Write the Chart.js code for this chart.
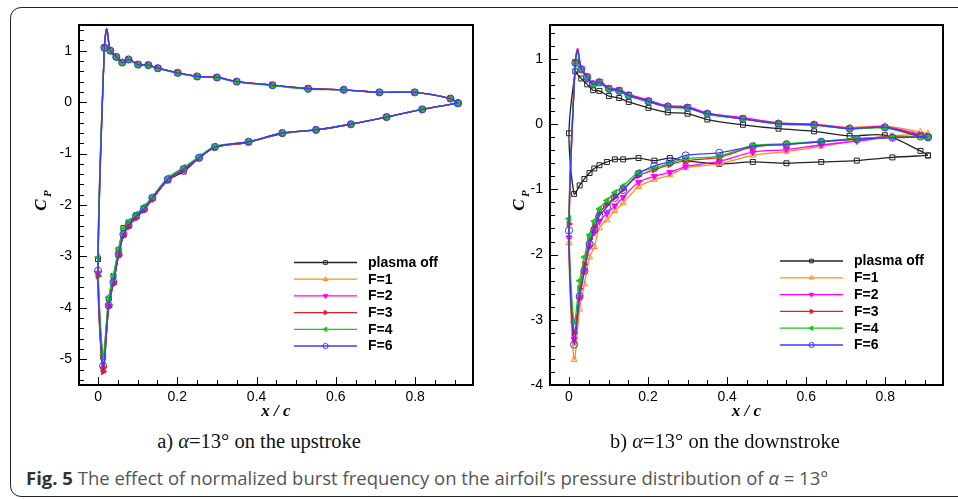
<!DOCTYPE html>
<html>
<head>
<meta charset="utf-8">
<script src="https://cdn.jsdelivr.net/npm/chart.js@4.4.1/dist/chart.umd.min.js"></script>
<style>
  html, body { margin: 0; padding: 0; background: #fff; width: 958px; height: 499px; overflow: hidden; }
  #frame { position: absolute; left: 10px; top: 7px; width: 980px; height: 490px; border: 1.5px solid #222; border-radius: 11px; box-sizing: border-box; }
  canvas { position: absolute; top: 0; }
  #ca { left: 0; }
  #cb { left: 478px; }
  .sub { position: absolute; top: 430px; font: 20.5px 'Liberation Serif', serif; color: #111; white-space: nowrap; transform: translateX(-50%); }
  #fig { position: absolute; left: 26px; top: 465px; font: 18.5px 'Open Sans', sans-serif; color: #555; white-space: nowrap; }
  #fig b { color: #333; }
</style>
</head>
<body>
<div id="frame"></div>
<canvas id="ca" width="480" height="430"></canvas>
<canvas id="cb" width="480" height="430"></canvas>
<div class="sub" style="left:259px">a) <i>α</i>=13° on the upstroke</div>
<div class="sub" style="left:725px">b) <i>α</i>=13° on the downstroke</div>
<div id="fig"><b>Fig. 5</b> The effect of normalized burst frequency on the airfoil’s pressure distribution of <i>α</i> = 13°</div>

<script>
// pressure taps: trailing edge + upper (pressure) side towards the leading edge, then lower (suction) side back
const upperX = [0.908, 0.889, 0.799, 0.710, 0.620, 0.530, 0.440, 0.350, 0.300, 0.250, 0.201, 0.151, 0.127, 0.101, 0.077, 0.061, 0.046, 0.031, 0.022, 0.016];
const lowerX = [0, 0.013, 0.027, 0.039, 0.052, 0.064, 0.077, 0.096, 0.116, 0.137, 0.176, 0.216, 0.255, 0.295, 0.380, 0.465, 0.550, 0.638, 0.728, 0.818, 0.908];
const peakX = 0.022; // spline apex, drawn without marker

const seriesNames = ['plasma off', 'F=1', 'F=2', 'F=3', 'F=4', 'F=6'];
const xTicks = [0, 0.2, 0.4, 0.6, 0.8];
const xTickLabels = ['0', '0.2', '0.4', '0.6', '0.8'];
const aYTicks = [1, 0, -1, -2, -3, -4, -5];
const bYTicks = [1, 0, -1, -2, -3, -4];

// a) upstroke
const upOff = [-0.02, 0.07, 0.19, 0.19, 0.24, 0.27, 0.33, 0.40, 0.48, 0.50, 0.57, 0.66, 0.72, 0.73, 0.83, 0.77, 0.88, 1.00, 1.42, 1.06,
  -3.05, -4.95, -3.82, -3.38, -2.87, -2.45, -2.34, -2.20, -2.06, -1.87, -1.52, -1.35, -1.09, -0.88, -0.78, -0.61, -0.54, -0.43, -0.29, -0.14, -0.02];
const upF1 = [-0.02, 0.07, 0.19, 0.19, 0.24, 0.26, 0.33, 0.40, 0.48, 0.50, 0.57, 0.66, 0.72, 0.73, 0.83, 0.77, 0.88, 1.00, 1.42, 1.06,
  -3.35, -5.20, -3.96, -3.51, -2.97, -2.58, -2.41, -2.24, -2.09, -1.88, -1.51, -1.31, -1.09, -0.88, -0.78, -0.60, -0.54, -0.43, -0.29, -0.14, -0.02];
const upF2 = [-0.02, 0.07, 0.19, 0.19, 0.24, 0.26, 0.33, 0.40, 0.49, 0.50, 0.57, 0.66, 0.72, 0.74, 0.83, 0.78, 0.88, 1.00, 1.43, 1.06,
  -3.32, -5.18, -3.96, -3.51, -2.97, -2.59, -2.41, -2.24, -2.09, -1.88, -1.51, -1.31, -1.08, -0.87, -0.77, -0.60, -0.54, -0.43, -0.29, -0.14, -0.02];
const upF3 = [-0.02, 0.07, 0.19, 0.19, 0.24, 0.26, 0.33, 0.40, 0.48, 0.50, 0.57, 0.66, 0.72, 0.73, 0.83, 0.77, 0.88, 1.00, 1.42, 1.06,
  -3.38, -5.24, -3.97, -3.52, -2.98, -2.60, -2.42, -2.25, -2.10, -1.89, -1.52, -1.32, -1.09, -0.88, -0.78, -0.60, -0.54, -0.43, -0.29, -0.14, -0.02];
const upF4 = [-0.02, 0.07, 0.19, 0.19, 0.24, 0.25, 0.32, 0.39, 0.47, 0.49, 0.56, 0.65, 0.71, 0.72, 0.82, 0.76, 0.87, 0.99, 1.40, 1.05,
  -3.02, -4.92, -3.80, -3.36, -2.85, -2.46, -2.32, -2.18, -2.03, -1.84, -1.47, -1.27, -1.06, -0.86, -0.77, -0.60, -0.54, -0.43, -0.29, -0.14, -0.02];
const upF6 = [-0.02, 0.07, 0.19, 0.19, 0.24, 0.26, 0.33, 0.40, 0.48, 0.50, 0.57, 0.66, 0.72, 0.73, 0.83, 0.77, 0.88, 1.00, 1.42, 1.06,
  -3.28, -5.13, -3.95, -3.50, -2.96, -2.57, -2.40, -2.22, -2.08, -1.86, -1.50, -1.30, -1.08, -0.87, -0.77, -0.60, -0.54, -0.43, -0.29, -0.14, -0.02];

// b) downstroke
const dnOff = [-0.48, -0.41, -0.17, -0.18, -0.11, -0.07, -0.01, 0.07, 0.16, 0.18, 0.25, 0.34, 0.40, 0.43, 0.51, 0.52, 0.61, 0.70, 0.76, 0.81,
  -0.14, -1.07, -0.94, -0.84, -0.75, -0.68, -0.63, -0.58, -0.54, -0.54, -0.52, -0.56, -0.52, -0.56, -0.61, -0.58, -0.60, -0.58, -0.56, -0.51, -0.48];
const dnF1 = [-0.15, -0.12, -0.03, -0.05, 0.00, 0.02, 0.09, 0.17, 0.26, 0.28, 0.36, 0.45, 0.52, 0.55, 0.65, 0.62, 0.73, 0.85, 1.12, 0.95,
  -1.82, -3.61, -2.84, -2.45, -2.04, -1.88, -1.59, -1.47, -1.33, -1.21, -0.96, -0.85, -0.78, -0.67, -0.61, -0.48, -0.42, -0.34, -0.25, -0.18, -0.15];
const dnF2 = [-0.19, -0.16, -0.04, -0.06, 0.00, 0.02, 0.10, 0.17, 0.27, 0.28, 0.37, 0.46, 0.53, 0.56, 0.66, 0.63, 0.74, 0.86, 1.16, 0.96,
  -1.74, -3.30, -2.66, -2.25, -1.88, -1.66, -1.49, -1.37, -1.25, -1.12, -0.89, -0.80, -0.74, -0.65, -0.57, -0.43, -0.39, -0.32, -0.26, -0.20, -0.19];
const dnF3 = [-0.19, -0.17, -0.05, -0.07, -0.01, 0.01, 0.08, 0.16, 0.25, 0.27, 0.35, 0.44, 0.51, 0.54, 0.64, 0.61, 0.72, 0.84, 1.14, 0.94,
  -1.53, -3.20, -2.52, -2.15, -1.76, -1.57, -1.36, -1.23, -1.12, -1.00, -0.79, -0.70, -0.62, -0.56, -0.51, -0.35, -0.31, -0.27, -0.23, -0.19, -0.19];
const dnF4 = [-0.20, -0.19, -0.06, -0.07, -0.02, 0.00, 0.08, 0.15, 0.24, 0.26, 0.34, 0.43, 0.50, 0.53, 0.63, 0.60, 0.71, 0.83, 1.12, 0.93,
  -1.45, -3.04, -2.40, -2.04, -1.70, -1.49, -1.30, -1.17, -1.05, -0.95, -0.74, -0.68, -0.60, -0.53, -0.49, -0.33, -0.30, -0.26, -0.22, -0.20, -0.20];
const dnF6 = [-0.20, -0.19, -0.05, -0.07, -0.01, 0.005, 0.08, 0.16, 0.25, 0.27, 0.35, 0.44, 0.51, 0.54, 0.64, 0.61, 0.72, 0.84, 1.12, 0.94,
  -1.63, -3.38, -2.64, -2.25, -1.84, -1.62, -1.41, -1.27, -1.13, -1.01, -0.76, -0.64, -0.58, -0.48, -0.44, -0.34, -0.31, -0.27, -0.23, -0.21, -0.20];

// styles
const colors = ['#222222', '#ff8c1a', '#ff00ff', '#e02020', '#18c818', '#3a3aff'];
const fills = ['rgba(0,0,0,0)', 'rgba(0,0,0,0)', '#ff00ff', '#e02020', '#18c818', 'rgba(0,0,0,0)'];
const styles = ['rect', 'triangle', 'triangle', 'triangle', 'triangle', 'circle'];
const rots = [0, 0, 180, 90, 270, 0];
const radii = [3.5, 3.5, 3.5, 3.5, 3.5, 3.6];
const tickFont = { family: "'Liberation Sans', Arial, sans-serif", size: 14 };

const decoPlugin = {
  id: 'deco',
  afterDraw(chart, args, o) {
    const { ctx, chartArea: a, scales: { x, y } } = chart;
    ctx.save();
    ctx.strokeStyle = '#000';
    ctx.lineWidth = 1;
    ctx.beginPath();
    // inward ticks on left axis, every 0.2
    for (let k = Math.ceil(y.min / 0.2 - 1e-6); k <= Math.floor(y.max / 0.2 + 1e-6); k++) {
      const py = Math.round(y.getPixelForValue(k * 0.2)) + 0.5;
      const len = k % 5 === 0 ? 8 : 5;
      ctx.moveTo(a.left, py); ctx.lineTo(a.left + len, py);
    }
    // inward ticks on bottom axis, every 0.05
    for (let k = Math.ceil(x.min / 0.05 - 1e-6); k <= Math.floor(x.max / 0.05 + 1e-6); k++) {
      const px = Math.round(x.getPixelForValue(k * 0.05)) + 0.5;
      const len = k % 4 === 0 ? 8 : 5;
      ctx.moveTo(px, a.bottom); ctx.lineTo(px, a.bottom - len);
    }
    ctx.stroke();
    ctx.lineWidth = 2;
    ctx.strokeRect(a.left, a.top, a.right - a.left, a.bottom - a.top);

    // axis titles
    ctx.fillStyle = '#000';
    ctx.font = "italic bold 17px 'Liberation Serif', serif";
    ctx.textAlign = 'center';
    ctx.textBaseline = 'alphabetic';
    ctx.fillText('x / c', (a.left + a.right) / 2, a.bottom + 31);
    ctx.save();
    ctx.translate(46, (a.top + a.bottom) / 2);
    ctx.rotate(-Math.PI / 2);
    ctx.fillText('C', 0, 0);
    ctx.font = "italic bold 11px 'Liberation Serif', serif";
    ctx.textAlign = 'left';
    ctx.fillText('P', 8, 5);
    ctx.restore();

    // legend
    ctx.font = "bold 14px 'Liberation Sans', Arial, sans-serif";
    ctx.textBaseline = 'middle';
    chart.data.datasets.forEach((ds, i) => {
      const ly = o.rowY + i * o.rowDY;
      ctx.strokeStyle = ds.borderColor;
      ctx.lineWidth = 1.3;
      ctx.beginPath();
      ctx.moveTo(o.lineX0, ly); ctx.lineTo(o.lineX1, ly);
      ctx.stroke();
      ctx.fillStyle = ds.pointBackgroundColor;
      ctx.lineWidth = 1;
      if (Chart.helpers && Chart.helpers.drawPoint) {
        Chart.helpers.drawPoint(ctx, { pointStyle: ds.pointStyle, rotation: ds.pointRotation, radius: 2.6, borderWidth: 1 }, (o.lineX0 + o.lineX1) / 2, ly);
      }
      ctx.fillStyle = '#000';
      ctx.textAlign = 'left';
      ctx.fillText(ds.label, o.textX, ly + 0.5);
    });
    ctx.restore();
  }
};

function makeChart(id, series, yMin, yMax, yTicks, padRight, yWidth, deco) {
  const loopX = upperX.concat(lowerX);
  return new Chart(document.getElementById(id), {
    type: 'scatter',
    data: {
      datasets: series.map((arr, i) => ({
        label: seriesNames[i],
        data: loopX.map((xv, k) => ({ x: xv, y: arr[k] })),
        showLine: true,
        borderColor: colors[i],
        backgroundColor: fills[i],
        borderWidth: 1.3,
        pointBorderColor: colors[i],
        pointBackgroundColor: fills[i],
        pointStyle: styles[i],
        pointRotation: rots[i],
        pointBorderWidth: 1,
        pointRadius: c => (c.raw && c.raw.x === peakX) ? 0 : radii[i],
        tension: 0.3,
        order: 5 - i
      }))
    },
    options: {
      responsive: false,
      animation: false,
      events: [],
      layout: { padding: { top: 25, right: padRight, left: 0, bottom: 0 } },
      plugins: { legend: { display: false }, tooltip: { enabled: false }, deco: deco },
      scales: {
        x: {
          type: 'linear', min: -0.048, max: 0.946,
          grid: { display: false, drawTicks: false }, border: { display: false },
          ticks: { font: tickFont, color: '#000', padding: 4, maxRotation: 0, callback: (v, idx) => xTickLabels[idx] },
          afterBuildTicks: s => { s.ticks = xTicks.map(v => ({ value: v })); },
          afterFit: s => { s.height = 45; }
        },
        y: {
          type: 'linear', min: yMin, max: yMax,
          grid: { display: false, drawTicks: false }, border: { display: false },
          ticks: { font: tickFont, color: '#000', padding: 7, callback: v => String(v) },
          afterBuildTicks: s => { s.ticks = yTicks.map(v => ({ value: v })); },
          afterFit: s => { s.width = yWidth; }
        }
      }
    },
    plugins: [decoPlugin]
  });
}

makeChart('ca', [upOff, upF1, upF2, upF3, upF4, upF6], -5.5, 1.5, aYTicks, 7, 79,
  { lineX0: 294, lineX1: 357, textX: 368, rowY: 262.5, rowDY: 16.7 });
makeChart('cb', [dnOff, dnF1, dnF2, dnF3, dnF4, dnF6], -4, 1.52, bYTicks, 15, 72,
  { lineX0: 302, lineX1: 365, textX: 376, rowY: 261, rowDY: 16.8 });
</script>
</body>
</html>
